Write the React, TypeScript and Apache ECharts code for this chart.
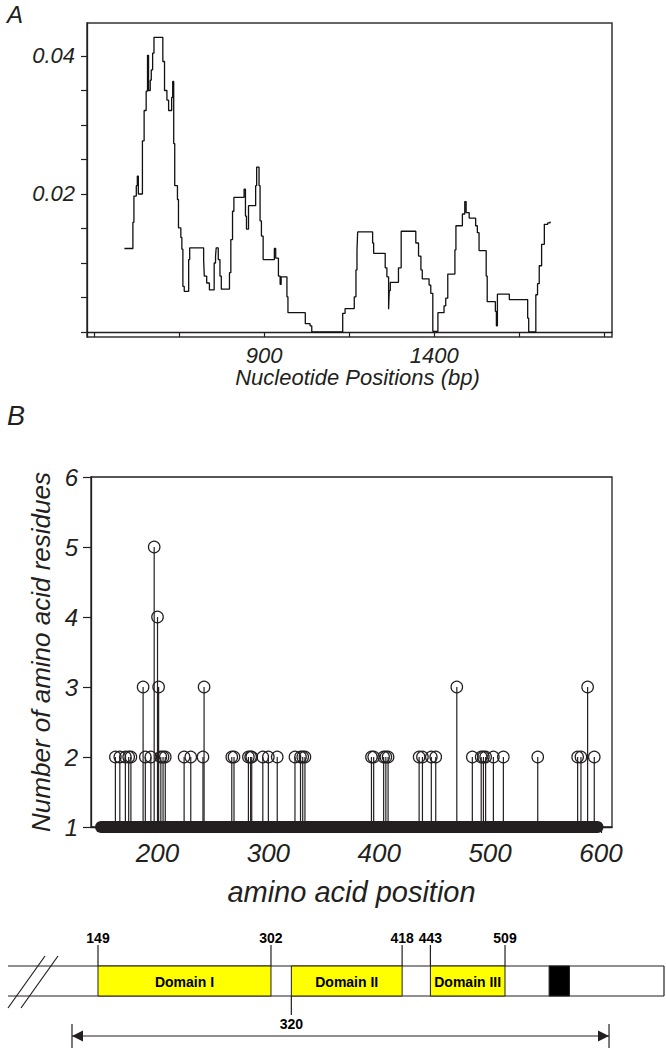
import React, { useEffect, useRef } from 'react';
import * as echarts from 'echarts';

// ---------- Panel A data ----------
const A_X_TICKS = [400, 650, 900, 1150, 1400, 1650, 1900];
const A_X_LABELS = [900, 1400];
const A_Y_TICKS = [0, 0.005, 0.01, 0.015, 0.02, 0.025, 0.03, 0.035, 0.04];
const A_Y_LABELS = [0.02, 0.04];
// [nucleotide position, value] - level starts at the position (step line)
const A_DIVERSITY: [number, number][] = [
  [489, 0.0121], [514, 0.0159], [517, 0.0197], [524, 0.0212], [527, 0.0226], [530, 0.02],
  [542, 0.0277], [547, 0.0321], [553, 0.0349], [557, 0.0401], [560, 0.035], [565, 0.0365],
  [568, 0.038], [572, 0.0404], [576, 0.0427], [602, 0.0392], [607, 0.035], [614, 0.0336],
  [619, 0.0321], [628, 0.034], [631, 0.0363], [634, 0.0273], [637, 0.0212], [645, 0.0192],
  [648, 0.0151], [655, 0.0137], [658, 0.012], [661, 0.0066], [665, 0.0059], [678, 0.0105],
  [681, 0.0122], [722, 0.0105], [724, 0.0081], [731, 0.0071], [739, 0.0061], [753, 0.01],
  [757, 0.011], [759, 0.0122], [765, 0.0105], [770, 0.0081], [774, 0.0062], [798, 0.0086],
  [802, 0.0134], [807, 0.0175], [811, 0.0195], [841, 0.0207], [845, 0.0168], [848, 0.0149],
  [854, 0.0183], [875, 0.0212], [878, 0.0239], [885, 0.0212], [888, 0.0161], [892, 0.0139],
  [897, 0.0105], [930, 0.0121], [934, 0.0107], [942, 0.0081], [947, 0.0069], [950, 0.008],
  [967, 0.0051], [970, 0.0028], [1021, 0.0012], [1035, 0.0009], [1040, 0.0], [1131, 0.0027],
  [1138, 0.0034], [1165, 0.0051], [1170, 0.009], [1173, 0.0118], [1175, 0.0145], [1219, 0.0129],
  [1222, 0.0114], [1256, 0.0093], [1261, 0.008], [1266, 0.0033], [1268, 0.006], [1271, 0.0072],
  [1295, 0.0093], [1303, 0.0146], [1346, 0.0129], [1354, 0.011], [1361, 0.009], [1365, 0.0077],
  [1385, 0.0068], [1390, 0.0056], [1396, 0.0001], [1411, 0.0028], [1429, 0.0038], [1434, 0.0049],
  [1440, 0.0084], [1461, 0.0119], [1464, 0.0154], [1483, 0.0171], [1490, 0.0189], [1494, 0.0173],
  [1503, 0.0165], [1522, 0.0154], [1527, 0.0144], [1532, 0.0118], [1553, 0.0081], [1556, 0.0044],
  [1580, 0.003], [1583, 0.0009], [1586, 0.0055], [1621, 0.0047], [1675, 0.002], [1678, 0.0],
  [1699, 0.0054], [1704, 0.007], [1709, 0.0096], [1716, 0.0127], [1724, 0.0156], [1734, 0.0158],
  [1741, 0.016],
];

// ---------- Panel B data ----------
const B_X_TICKS = [200, 300, 400, 500, 600];
const B_BASELINE: [number, number][] = [[149, 1], [597, 1]];
// [amino acid position, number of residues]
const B_STEMS: [number, number][] = [
  [162, 2], [166, 2], [171, 2], [174, 2], [176, 2], [187, 3], [189, 2], [194, 2], [197, 5],
  [200, 4], [201, 3], [203, 2], [205, 2], [207, 2], [224, 2], [230, 2], [241, 2], [242, 3],
  [267, 2], [269, 2], [282, 2], [284, 2], [285, 2], [295, 2], [300, 2], [308, 2], [324, 2],
  [329, 2], [331, 2], [333, 2], [393, 2], [395, 2], [404, 2], [406, 2], [408, 2], [436, 2],
  [439, 2], [447, 2], [451, 2], [470, 3], [484, 2], [492, 2], [494, 2], [496, 2], [503, 2],
  [512, 2], [543, 2], [579, 2], [582, 2], [588, 3], [594, 2],
];

// ---------- Domain diagram data ----------
const DOMAIN_NAMES = ['Domain I', 'Domain II', 'Domain III'];
const DOMAIN_STARTS = [149, 320, 443];
const DOMAIN_ENDS = [302, 418, 509];
const MARK_POSITIONS = [149, 302, 320, 418, 443, 509];
const MARK_BELOW = [false, false, true, false, false, false];
const MOTIF = [548, 566];
const ARROW_RANGE = [126, 601];

const INK = '#231f20';
const FONT = '"Liberation Sans", Arial, sans-serif';

function buildOption(): any {
  const diagTop = 966;
  const diagBot = 996;
  return {
    backgroundColor: '#ffffff',
    animation: false,
    grid: [
      { left: 87, right: 54, top: 23, height: 314, show: true, borderColor: '#333', borderWidth: 1.5, backgroundColor: 'transparent' },
      { left: 91, right: 54, top: 477, height: 350, show: true, borderColor: INK, borderWidth: 1.3, backgroundColor: 'transparent' },
      { left: 0, width: 666, top: 940, height: 100, show: false },
    ],
    xAxis: [
      {
        gridIndex: 0, type: 'value', min: 379, max: 1923,
        axisLine: { show: true, lineStyle: { color: INK, width: 1.3 } },
        axisTick: { show: true, length: 5, customValues: A_X_TICKS, lineStyle: { color: INK, width: 1.2 } },
        axisLabel: {
          customValues: A_X_LABELS, fontSize: 22, fontStyle: 'italic', fontFamily: FONT, color: INK, margin: 7,
          formatter: (v: number) => String(v),
        },
        splitLine: { show: false },
        name: 'Nucleotide Positions (bp)', nameLocation: 'middle', nameGap: 29,
        nameTextStyle: { fontSize: 22, fontStyle: 'italic', fontFamily: FONT, color: INK, padding: [0, 0, 0, 16] },
      },
      {
        gridIndex: 1, type: 'value', min: 140, max: 610,
        axisLine: { show: true, lineStyle: { color: INK, width: 1.3 } },
        axisTick: { show: true, length: 6, customValues: B_X_TICKS, lineStyle: { color: INK, width: 1.2 } },
        axisLabel: {
          customValues: B_X_TICKS, fontSize: 26, fontStyle: 'italic', fontFamily: FONT, color: INK, margin: 13,
          formatter: (v: number) => String(v),
        },
        splitLine: { show: false },
        name: 'amino acid position', nameLocation: 'middle', nameGap: 50,
        nameTextStyle: { fontSize: 29, fontStyle: 'italic', fontFamily: FONT, color: INK },
      },
      { gridIndex: 2, type: 'value', min: 62.32, max: 651.39, show: false },
    ],
    yAxis: [
      {
        gridIndex: 0, type: 'value', min: -0.000725, max: 0.04478,
        axisLine: { show: true, lineStyle: { color: INK, width: 1.3 } },
        axisTick: { show: true, length: 6, customValues: A_Y_TICKS, lineStyle: { color: INK, width: 1.2 } },
        axisLabel: {
          customValues: A_Y_LABELS, fontSize: 22, fontStyle: 'italic', fontFamily: FONT, color: INK, margin: 12,
          formatter: (v: number) => v.toFixed(2),
        },
        splitLine: { show: false },
      },
      {
        gridIndex: 1, type: 'value', min: 1, max: 6, interval: 1,
        axisLine: { show: true, lineStyle: { color: INK, width: 1.3 } },
        axisTick: { show: true, length: 8, lineStyle: { color: INK, width: 1.2 } },
        axisLabel: { fontSize: 24, fontStyle: 'italic', fontFamily: FONT, color: INK, margin: 13 },
        splitLine: { show: false },
        name: 'Number of amino acid residues', nameLocation: 'middle', nameGap: 36,
        nameTextStyle: { fontSize: 26, fontStyle: 'italic', fontFamily: FONT, color: INK },
      },
      { gridIndex: 2, type: 'value', min: 0, max: 1, show: false },
    ],
    series: [
      {
        type: 'line', xAxisIndex: 0, yAxisIndex: 0, data: A_DIVERSITY, step: 'end',
        symbol: 'none', lineStyle: { color: '#111', width: 1.3 }, clip: false,
      },
      {
        type: 'line', xAxisIndex: 1, yAxisIndex: 1, data: B_BASELINE, symbol: 'none', clip: false,
        lineStyle: { color: INK, width: 12, cap: 'round' }, z: 3,
      },
      {
        type: 'custom', xAxisIndex: 1, yAxisIndex: 1, data: B_STEMS, clip: false, z: 2,
        renderItem: (params: any, api: any) => {
          const x = api.value(0);
          const p0 = api.coord([x, 1]);
          const p1 = api.coord([x, api.value(1)]);
          return {
            type: 'line',
            shape: { x1: p0[0], y1: p0[1], x2: p1[0], y2: p1[1] },
            style: { stroke: INK, lineWidth: 1.2 },
          };
        },
      },
      {
        type: 'scatter', xAxisIndex: 1, yAxisIndex: 1, data: B_STEMS, symbol: 'circle', symbolSize: 11.5,
        itemStyle: { color: 'rgba(0,0,0,0)', borderColor: INK, borderWidth: 1.2, opacity: 1 }, z: 4, clip: false,
      },
      // domain boxes
      {
        type: 'custom', xAxisIndex: 2, yAxisIndex: 2, z: 5,
        data: DOMAIN_STARTS.map((s, i) => [s, DOMAIN_ENDS[i]]),
        renderItem: (params: any, api: any) => {
          const x1 = api.coord([api.value(0), 0])[0];
          const x2 = api.coord([api.value(1), 0])[0];
          return {
            type: 'group',
            children: [
              { type: 'rect', shape: { x: x1, y: diagTop, width: x2 - x1, height: diagBot - diagTop }, style: { fill: '#ffff00', stroke: INK, lineWidth: 1 } },
              {
                type: 'text',
                style: {
                  text: DOMAIN_NAMES[params.dataIndex], x: (x1 + x2) / 2, y: (diagTop + diagBot) / 2 + 1,
                  fill: '#000', fontSize: 14, fontWeight: 'bold', fontFamily: FONT,
                  align: 'center', verticalAlign: 'middle', textAlign: 'center', textVerticalAlign: 'middle',
                },
              },
            ],
          };
        },
      },
      // motif box
      {
        type: 'custom', xAxisIndex: 2, yAxisIndex: 2, z: 5, data: [MOTIF],
        renderItem: (params: any, api: any) => {
          const x1 = api.coord([api.value(0), 0])[0];
          const x2 = api.coord([api.value(1), 0])[0];
          return { type: 'rect', shape: { x: x1, y: diagTop, width: x2 - x1, height: diagBot - diagTop }, style: { fill: '#000', stroke: INK, lineWidth: 1 } };
        },
      },
      // position marks
      {
        type: 'custom', xAxisIndex: 2, yAxisIndex: 2, z: 5, data: MARK_POSITIONS.map((p) => [p]),
        renderItem: (params: any, api: any) => {
          const v = api.value(0);
          const x = api.coord([v, 0])[0];
          const below = MARK_BELOW[params.dataIndex];
          const y1 = below ? diagBot : 945;
          const y2 = below ? 1015 : diagTop;
          const ty = below ? 1024 : 938;
          return {
            type: 'group',
            children: [
              { type: 'line', shape: { x1: x, y1, x2: x, y2 }, style: { stroke: INK, lineWidth: 1.2 } },
              {
                type: 'text',
                style: {
                  text: String(v), x, y: ty, fill: '#000', fontSize: 14, fontWeight: 'bold', fontFamily: FONT,
                  align: 'center', verticalAlign: 'middle', textAlign: 'center', textVerticalAlign: 'middle',
                },
              },
            ],
          };
        },
      },
      // range arrow
      {
        type: 'custom', xAxisIndex: 2, yAxisIndex: 2, z: 5, data: [ARROW_RANGE],
        renderItem: (params: any, api: any) => {
          const x1 = api.coord([api.value(0), 0])[0];
          const x2 = api.coord([api.value(1), 0])[0];
          const y = 1036;
          return {
            type: 'group',
            children: [
              { type: 'line', shape: { x1, y1: y, x2, y2: y }, style: { stroke: INK, lineWidth: 1.2 } },
              { type: 'line', shape: { x1, y1: 1024, x2: x1, y2: 1048 }, style: { stroke: INK, lineWidth: 1.2 } },
              { type: 'line', shape: { x1: x2, y1: 1024, x2: x2, y2: 1048 }, style: { stroke: INK, lineWidth: 1.2 } },
              { type: 'polygon', shape: { points: [[x1, y], [x1 + 11, y - 5.5], [x1 + 11, y + 5.5]] }, style: { fill: INK } },
              { type: 'polygon', shape: { points: [[x2, y], [x2 - 11, y - 5.5], [x2 - 11, y + 5.5]] }, style: { fill: INK } },
            ],
          };
        },
      },
    ],
    graphic: [
      { type: 'text', left: 7, top: 2, style: { text: 'A', fontSize: 24, fontStyle: 'italic', fontFamily: FONT, fill: INK } },
      { type: 'text', left: 7, top: 402, style: { text: 'B', fontSize: 27, fontStyle: 'italic', fontFamily: FONT, fill: INK } },
      // protein outline
      { type: 'line', shape: { x1: 8, y1: diagTop, x2: 664, y2: diagTop }, style: { stroke: INK, lineWidth: 1.2 }, z: 1 },
      { type: 'line', shape: { x1: 8, y1: diagBot, x2: 664, y2: diagBot }, style: { stroke: INK, lineWidth: 1.2 }, z: 1 },
      { type: 'line', shape: { x1: 664, y1: diagTop, x2: 664, y2: diagBot }, style: { stroke: INK, lineWidth: 1.2 }, z: 1 },
      // break marks
      { type: 'line', shape: { x1: 8, y1: 1008, x2: 45, y2: 956 }, style: { stroke: INK, lineWidth: 1.2 }, z: 1 },
      { type: 'line', shape: { x1: 21, y1: 1008, x2: 58, y2: 956 }, style: { stroke: INK, lineWidth: 1.2 }, z: 1 },
    ],
  };
}

export default function App() {
  const ref = useRef<HTMLDivElement>(null);
  useEffect(() => {
    if (!ref.current) return;
    const chart = echarts.init(ref.current, null, { renderer: 'svg' });
    chart.setOption(buildOption());
    return () => chart.dispose();
  }, []);
  return (
    <div
      ref={ref}
      style={{ position: 'absolute', left: 0, top: 0, width: 666, height: 1050, background: '#fff' }}
    />
  );
}
